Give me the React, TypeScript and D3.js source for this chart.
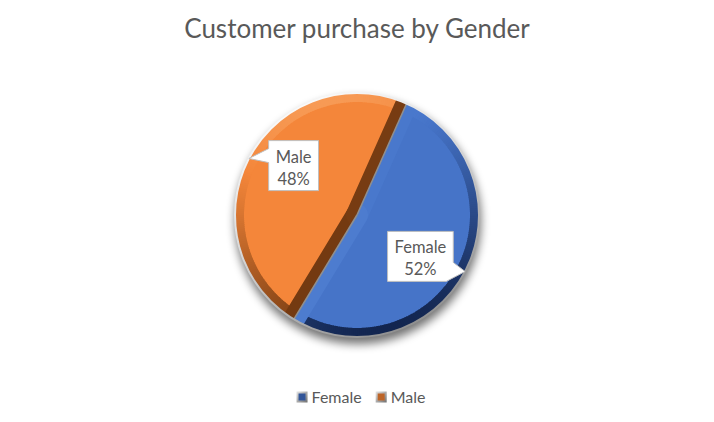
import React, { useEffect, useRef } from 'react';
import * as d3 from 'd3';

// chart data
const title = 'Customer purchase by Gender';
const categories = ['Female', 'Male'];
const purchases = [52, 48];
const faceColors = ['#4674c8', '#f4863a'];
const rimDark = ['#132650', '#6a340e'];
const rimLight = ['#5585d8', '#f79a55'];

const W = 714;
const H = 422;
const FONT = 'Lato, "Open Sans", sans-serif';
const TEXT = '#595959';

export default function App() {
  const ref = useRef<SVGSVGElement>(null);

  useEffect(() => {
    const svg = d3.select(ref.current);
    svg.selectAll('*').remove();

    const cx = 357, cy = 215, r = 122, bevel = 9, edgeBevel = 11;
    const lightAngle = -15 * Math.PI / 180;
    const lightOf = (a: number) => (1 + Math.cos(a - lightAngle)) / 2;
    const shade = (i: number, t: number) =>
      d3.scaleLinear<string>()
        .domain([0, 0.8, 1])
        .range([rimDark[i], faceColors[i], rimLight[i]])
        .interpolate(d3.interpolateRgb)(t);

    const data = categories.map((c, i) => ({ name: c, value: purchases[i], i }));
    const start = 24 * Math.PI / 180;
    const pie = d3.pie<any>().sort(null).value(d => d.value).startAngle(start).endAngle(start + 2 * Math.PI);
    const arcs = pie(data);
    const arc = d3.arc<any>().innerRadius(0).outerRadius(r);
    const total = d3.sum(purchases);

    const defs = svg.append('defs');
    const blur = defs.append('filter').attr('id', 'shadow')
      .attr('x', '-30%').attr('y', '-30%').attr('width', '160%').attr('height', '160%');
    blur.append('feGaussianBlur').attr('stdDeviation', 5);

    const edgeGrad = defs.append('linearGradient').attr('id', 'edge')
      .attr('x1', 0.2).attr('y1', 0).attr('x2', 0.7).attr('y2', 1);
    edgeGrad.append('stop').attr('offset', 0).attr('stop-color', '#ffffff');
    edgeGrad.append('stop').attr('offset', 0.45).attr('stop-color', '#d9d9d9');
    edgeGrad.append('stop').attr('offset', 1).attr('stop-color', '#8c8c8c');

    svg.append('rect').attr('width', W).attr('height', H).attr('fill', '#fff');

    svg.append('text')
      .attr('x', W / 2).attr('y', 38)
      .attr('text-anchor', 'middle')
      .attr('font-family', FONT).attr('font-size', 26)
      .attr('fill', TEXT)
      .text(title);

    const g = svg.append('g').attr('transform', `translate(${cx},${cy})`);

    // drop shadow
    g.append('circle')
      .attr('cx', 1).attr('cy', 6).attr('r', r + 1)
      .attr('fill', '#000').attr('opacity', 0.55)
      .attr('filter', 'url(#shadow)');

    arcs.forEach((a, k) => {
      const i = a.data.i;
      const clipId = 'clip' + k;
      defs.append('clipPath').attr('id', clipId).append('path').attr('d', arc(a) as string);
      const sg = g.append('g').attr('clip-path', `url(#${clipId})`);

      sg.append('path').attr('d', arc(a) as string).attr('fill', faceColors[i]);

      // outer bevel, shaded by the direction it faces
      const ring = d3.arc<any>().innerRadius(r - bevel).outerRadius(r + 1);
      const step = Math.PI / 180;
      for (let t = a.startAngle; t < a.endAngle; t += step) {
        const t1 = Math.min(t + step, a.endAngle);
        sg.append('path')
          .attr('d', ring({ startAngle: t - 0.004, endAngle: t1 + 0.004 }) as string)
          .attr('fill', shade(i, lightOf((t + t1) / 2)));
      }

      // straight edge bevels (steeper, so shadowed sides go darker)
      const edges = [
        { ang: a.startAngle, normal: a.startAngle - Math.PI / 2 },
        { ang: a.endAngle, normal: a.endAngle + Math.PI / 2 },
      ];
      edges.forEach(e => {
        const lt = lightOf(e.normal);
        sg.append('line')
          .attr('x1', 0).attr('y1', 0)
          .attr('x2', (r + 2) * Math.sin(e.ang)).attr('y2', -(r + 2) * Math.cos(e.ang))
          .attr('stroke', shade(i, lt < 0.5 ? lt * 0.4 : lt + 0.03))
          .attr('stroke-width', edgeBevel * 2)
          .attr('stroke-linecap', 'round');
      });
    });

    // separators between slices
    arcs.forEach(a => {
      g.append('line')
        .attr('x1', 0).attr('y1', 0)
        .attr('x2', r * Math.sin(a.startAngle)).attr('y2', -r * Math.cos(a.startAngle))
        .attr('stroke', '#8f8f8f').attr('stroke-width', 1.6);
    });

    // outer edge highlight
    g.append('circle').attr('r', r)
      .attr('fill', 'none').attr('stroke', 'url(#edge)').attr('stroke-width', 2);

    // callout labels
    arcs.forEach(a => {
      const mid = (a.startAngle + a.endAngle) / 2;
      const tip = [r * Math.sin(mid), -r * Math.cos(mid)];
      const la = mid + 8 * Math.PI / 180;
      const bx = 78 * Math.sin(la);
      const by = -78 * Math.cos(la) - 4;
      const pct = Math.round(a.data.value / total * 100) + '%';
      const lg = g.append('g');
      const t1 = lg.append('text').attr('x', bx).attr('y', by - 3)
        .attr('text-anchor', 'middle').attr('font-family', FONT).attr('font-size', 16.5)
        .attr('fill', TEXT).text(a.data.name);
      lg.append('text').attr('x', bx).attr('y', by + 19)
        .attr('text-anchor', 'middle').attr('font-family', FONT).attr('font-size', 16.5)
        .attr('fill', TEXT).text(pct);
      const tw = (t1.node() as SVGTextElement).getComputedTextLength();
      const w = Math.max(tw, 30) + 14, h = 50;
      const x0 = bx - w / 2, x1 = bx + w / 2, y0 = by - h / 2, y1 = by + h / 2;
      let d: string;
      if (tip[0] < x0) {
        d = `M${x0},${y0}L${x1},${y0}L${x1},${y1}L${x0},${y1}L${x0},${y0 + 22}L${tip[0]},${tip[1]}L${x0},${y0 + 8}Z`;
      } else {
        d = `M${x0},${y0}L${x1},${y0}L${x1},${y1 - 19}L${tip[0]},${tip[1]}L${x1 - 7},${y1}L${x0},${y1}Z`;
      }
      lg.insert('path', 'text').attr('d', d)
        .attr('fill', '#fff').attr('stroke', '#bfbfbf').attr('stroke-width', 1);
    });

    // legend
    const leg = svg.append('g').attr('transform', 'translate(0,397)');
    const items: { g: any; w: number }[] = [];
    categories.forEach((c, i) => {
      const ig = leg.append('g');
      const grad = defs.append('linearGradient').attr('id', 'lg' + i)
        .attr('x1', 0).attr('y1', 0).attr('x2', 1).attr('y2', 1);
      grad.append('stop').attr('offset', 0).attr('stop-color', '#e6e6e6');
      grad.append('stop').attr('offset', 1).attr('stop-color', '#6f6f6f');
      ig.append('rect').attr('x', 0).attr('y', -5.5).attr('width', 11).attr('height', 11)
        .attr('fill', `url(#lg${i})`);
      ig.append('rect').attr('x', 2).attr('y', -3.5).attr('width', 7).attr('height', 7)
        .attr('fill', d3.interpolateRgb(faceColors[i], rimDark[i])(0.4));
      const tx = ig.append('text').attr('x', 15).attr('y', 5.5)
        .attr('font-family', FONT).attr('font-size', 16).attr('fill', TEXT).text(c);
      items.push({ g: ig, w: 15 + (tx.node() as SVGTextElement).getComputedTextLength() });
    });
    const gap = 14;
    const totalW = d3.sum(items, d => d.w) + gap * (items.length - 1);
    let x = 361 - totalW / 2;
    items.forEach(it => {
      it.g.attr('transform', `translate(${x},0)`);
      x += it.w + gap;
    });
  }, []);

  return (
    <div style={{ position: 'absolute', left: 0, top: 0 }}>
      <svg ref={ref} width={W} height={H} style={{ display: 'block' }} />
    </div>
  );
}
